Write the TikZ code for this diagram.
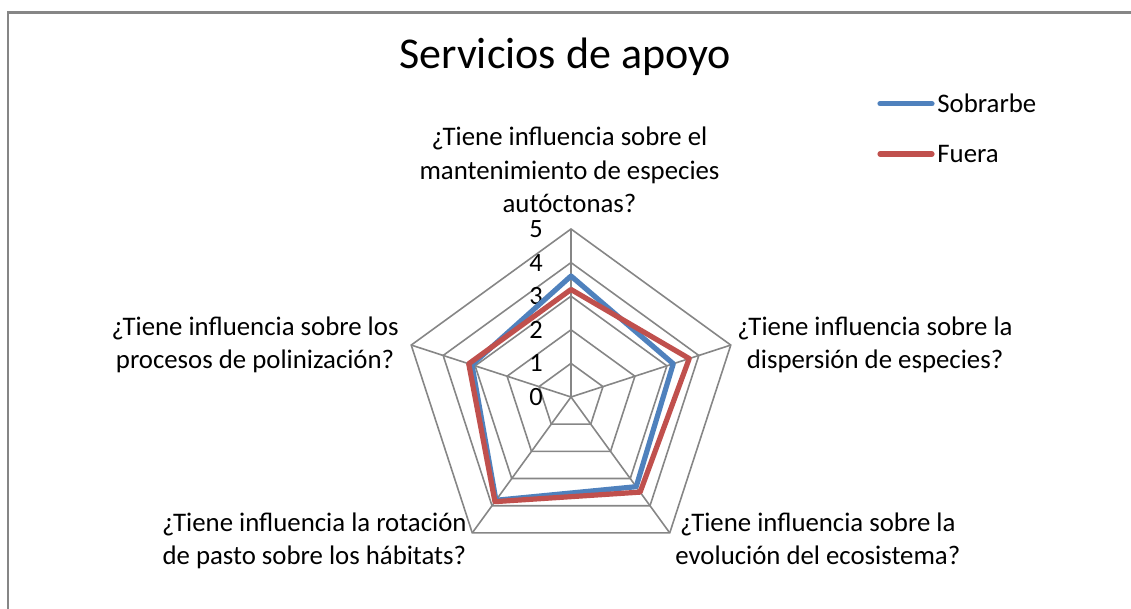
\documentclass[tikz,border=0pt]{standalone}
\usepackage{fontspec}
\setmainfont{Carlito}
\usetikzlibrary{positioning}

\definecolor{sobrarbe}{HTML}{4F81BD}
\definecolor{fuera}{HTML}{C0504D}
\definecolor{rejilla}{HTML}{868686}

\tikzset{
  web/.style={draw=rejilla, line width=0.8pt},
  serie/.style={line width=2.6pt, line join=round},
  axislab/.style={inner sep=0pt, font=\fontsize{13.2}{16}\selectfont},
  catlab/.style={inner sep=0pt, align=center, font=\fontsize{13.4}{16.8}\selectfont},
  legtext/.style={inner sep=0pt, anchor=base west, font=\fontsize{13.4}{16}\selectfont}
}

\begin{document}
\begin{tikzpicture}[x=0.5pt, y=0.5pt]
  \useasboundingbox (0,0) rectangle (1131,609);
  % chart area border
  \draw[rejilla, line width=1.2pt] (8,0) -- (8,596.5) -- (1131,596.5);

  \node[font=\fontsize{22}{26}\selectfont, inner sep=0pt, anchor=base] (title) at (565,540) {Servicios de apoyo};

  % radar web and series
  \coordinate (c) at (571,212);
  \begin{scope}[shift={(c)}, scale=33.6]
    \foreach \a [count=\i] in {90,18,-54,-126,162}
      \coordinate (v\i) at (\a:5);
    \foreach \l in {1,...,5}
      \draw[web] (90:\l) -- (18:\l) -- (-54:\l) -- (-126:\l) -- (162:\l) -- cycle;
    \foreach \i in {1,...,5}
      \draw[web] (c) -- (v\i);
    \foreach \l in {0,...,5}
      \node[axislab] (n\l) at (-1.04,\l) {\l};

    \draw[serie, sobrarbe] (90:3.6) -- (18:3.2) -- (-54:3.3) -- (-126:3.8) -- (162:3.1) -- cycle;
    \draw[serie, fuera] (90:3.2) -- (18:3.7) -- (-54:3.5) -- (-126:3.85) -- (162:3.2) -- cycle;
  \end{scope}

  % category labels
  \node[catlab, anchor=base] (mant) at (569.5,396) {¿Tiene influencia sobre el\\mantenimiento de especies\\autóctonas?};
  \node[catlab, anchor=base west] (disp) at (737,240) {¿Tiene influencia sobre la\\dispersión de especies?};
  \node[catlab, anchor=base west] (evol) at (675,44) {¿Tiene influencia sobre la\\evolución del ecosistema?};
  \node[catlab, anchor=base east] (rota) at (467,44) {¿Tiene influencia la rotación\\de pasto sobre los hábitats?};
  \node[catlab, anchor=base east] (poli) at (399,240) {¿Tiene influencia sobre los\\procesos de polinización?};

  % legend
  \node[legtext] (leg-sob) at (937,496) {Sobrarbe};
  \node[legtext, below=15.7pt of leg-sob.south west, anchor=north west] (leg-fue) {Fuera};
  \draw[serie, sobrarbe, line cap=round] ([xshift=-2.5pt]leg-sob.west) -- ++(-52,0);
  \draw[serie, fuera, line cap=round] ([xshift=-2.5pt]leg-fue.west) -- ++(-52,0);
\end{tikzpicture}
\end{document}
